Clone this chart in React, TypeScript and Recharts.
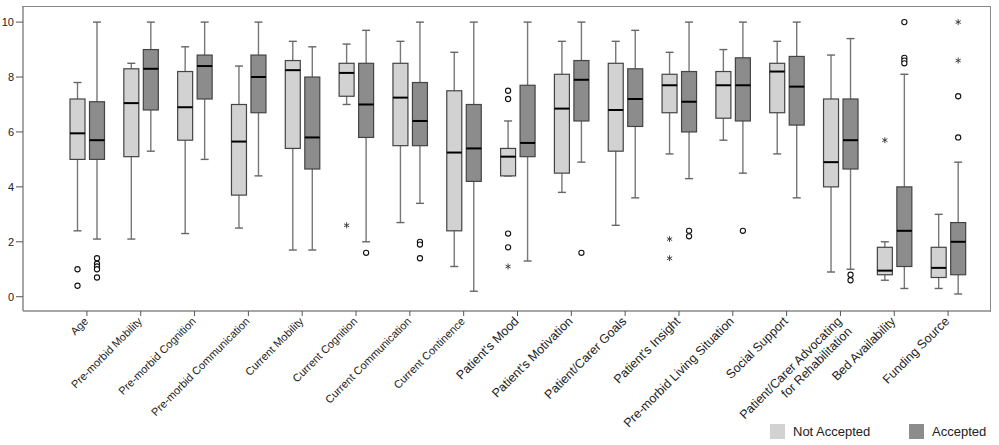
import React from 'react';
import { ComposedChart, Bar, XAxis, YAxis } from 'recharts';

const categories = [
  'Age',
  'Pre-morbid Mobility',
  'Pre-morbid Cognition',
  'Pre-morbid Communication',
  'Current Mobility',
  'Current Cognition',
  'Current Communication',
  'Current Continence',
  "Patient's Mood",
  "Patient's Motivation",
  'Patient/Carer Goals',
  "Patient's Insight",
  'Pre-morbid Living Situation',
  'Social Support',
  'Patient/Carer Advocating\nfor Rehabilitation',
  'Bed Availability',
  'Funding Source',
];

// Not Accepted
const naLow = [2.4, 2.1, 2.3, 2.5, 1.7, 7.0, 2.7, 1.1, 4.4, 3.8, 2.6, 5.2, 5.7, 5.2, 0.9, 0.6, 0.3];
const naQ1 = [5.0, 5.1, 5.7, 3.7, 5.4, 7.3, 5.5, 2.4, 4.4, 4.5, 5.3, 6.7, 6.5, 6.7, 4.0, 0.8, 0.7];
const naMed = [5.95, 7.05, 6.9, 5.65, 8.25, 8.15, 7.25, 5.25, 5.1, 6.85, 6.8, 7.7, 7.7, 8.2, 4.9, 0.95, 1.05];
const naQ3 = [7.2, 8.3, 8.2, 7.0, 8.6, 8.5, 8.5, 7.5, 5.4, 8.1, 8.5, 8.1, 8.2, 8.5, 7.2, 1.8, 1.8];
const naHigh = [7.8, 8.5, 9.1, 8.4, 9.3, 9.2, 9.3, 8.9, 6.4, 9.3, 9.3, 8.9, 9.0, 9.3, 8.8, 2.0, 3.0];
const naCircles = [[1.0, 0.4], [], [], [], [], [], [], [], [7.5, 7.2, 2.3, 1.8], [], [], [], [], [], [], [], []];
const naStars = [[], [], [], [], [], [2.6], [], [], [1.1], [], [], [2.1, 1.4], [], [], [], [5.7], []];

// Accepted
const accLow = [2.1, 5.3, 5.0, 4.4, 1.7, 2.0, 3.4, 0.2, 1.3, 4.9, 3.6, 4.3, 4.5, 3.6, 1.0, 0.3, 0.1];
const accQ1 = [5.0, 6.8, 7.2, 6.7, 4.65, 5.8, 5.5, 4.2, 5.1, 6.4, 6.2, 6.0, 6.4, 6.25, 4.65, 1.1, 0.8];
const accMed = [5.7, 8.3, 8.4, 8.0, 5.8, 7.0, 6.4, 5.4, 5.6, 7.9, 7.2, 7.1, 7.7, 7.65, 5.7, 2.4, 2.0];
const accQ3 = [7.1, 9.0, 8.8, 8.8, 8.0, 8.5, 7.8, 7.0, 7.7, 8.6, 8.3, 8.2, 8.7, 8.75, 7.2, 4.0, 2.7];
const accHigh = [10, 10, 10, 10, 9.1, 9.7, 10, 10, 10, 10, 9.7, 10, 10, 10, 9.4, 8.1, 4.9];
const accCircles = [
  [1.4, 1.2, 1.1, 1.0, 0.7], [], [], [], [], [1.6], [2.0, 1.9, 1.4], [], [], [1.6], [],
  [2.4, 2.2], [2.4], [], [0.8, 0.6], [10, 8.7, 8.6, 8.5], [7.3, 5.8],
];
const accStars = [[], [], [], [], [], [], [], [], [], [], [], [], [], [], [], [], [10, 8.6]];

const yTicks = [0, 2, 4, 6, 8, 10];

const data = categories.map((name, i) => ({
  name,
  na: { low: naLow[i], q1: naQ1[i], med: naMed[i], q3: naQ3[i], high: naHigh[i], circles: naCircles[i], stars: naStars[i] },
  acc: { low: accLow[i], q1: accQ1[i], med: accMed[i], q3: accQ3[i], high: accHigh[i], circles: accCircles[i], stars: accStars[i] },
}));

const FONT = '"Liberation Sans", Arial, sans-serif';

const boxShape = (key: 'na' | 'acc', fill: string) => (props: any) => {
  const { x, y, width, height, payload } = props;
  const s = payload[key];
  const py = (v: number) => y + (height * (s.high - v)) / (s.high - s.low);
  const cx = x + width / 2;
  const cap = 4;
  return (
    <g>
      <line x1={cx} x2={cx} y1={py(s.high)} y2={py(s.q3)} stroke="#777" strokeWidth={1.4} />
      <line x1={cx} x2={cx} y1={py(s.q1)} y2={py(s.low)} stroke="#777" strokeWidth={1.4} />
      <line x1={cx - cap} x2={cx + cap} y1={py(s.high)} y2={py(s.high)} stroke="#666" strokeWidth={1.4} />
      <line x1={cx - cap} x2={cx + cap} y1={py(s.low)} y2={py(s.low)} stroke="#666" strokeWidth={1.4} />
      <rect x={x} y={py(s.q3)} width={width} height={py(s.q1) - py(s.q3)} fill={fill} stroke="#444" strokeWidth={1.2} />
      <line x1={x} x2={x + width} y1={py(s.med)} y2={py(s.med)} stroke="#000" strokeWidth={2} />
      {s.circles.map((v: number, k: number) => (
        <circle key={'c' + k} cx={cx} cy={py(v)} r={2.6} fill="#fff" stroke="#111" strokeWidth={1.1} />
      ))}
      {s.stars.map((v: number, k: number) => {
        const yy = py(v);
        return (
          <g key={'s' + k} stroke="#333" strokeWidth={0.9}>
            <line x1={cx} x2={cx} y1={yy - 3} y2={yy + 3} />
            <line x1={cx - 2.6} x2={cx + 2.6} y1={yy - 1.5} y2={yy + 1.5} />
            <line x1={cx - 2.6} x2={cx + 2.6} y1={yy + 1.5} y2={yy - 1.5} />
          </g>
        );
      })}
    </g>
  );
};

const XTick = (props: any) => {
  const { x, y, payload, index } = props;
  const lines = String(payload.value).split('\n');
  const size = index >= 8 ? 12.5 : 11;
  return (
    <g transform={`translate(${x + 2},${y + 4})`}>
      <text transform="rotate(-45)" textAnchor="end" fontSize={size} fontFamily={FONT} fill="#222" dy="0.35em">
        {lines.map((l, k) => (
          <tspan key={k} x={0} dy={k === 0 ? 0 : '1.15em'}>
            {l}
          </tspan>
        ))}
      </text>
    </g>
  );
};

export default function App() {
  return (
    <div style={{ position: 'absolute', left: 0, top: 0, width: 999, height: 445, background: '#fff' }}>
      <ComposedChart
        width={999}
        height={445}
        data={data}
        margin={{ top: 7, right: 9, left: 0, bottom: 0 }}
        barSize={15}
        barGap={4.5}
      >
        <XAxis
          dataKey="name"
          height={134}
          interval={0}
          padding={{ left: 37, right: 15 }}
          tick={<XTick />}
          tickSize={5}
          tickMargin={2}
          axisLine={{ stroke: '#888', strokeWidth: 1.5 }}
          tickLine={{ stroke: '#555' }}
        />
        <YAxis
          type="number"
          domain={[-0.52, 10.55]}
          ticks={yTicks}
          allowDataOverflow
          width={23}
          tickSize={7}
          tickMargin={2}
          tick={{ fontSize: 11, fontFamily: FONT, fill: '#222' }}
          axisLine={{ stroke: '#888', strokeWidth: 1.5 }}
          tickLine={{ stroke: '#555' }}
        />
        <Bar
          dataKey={(d: any) => [d.na.low, d.na.high]}
          name="Not Accepted"
          fill="#d2d2d2"
          shape={boxShape('na', '#d2d2d2')}
          isAnimationActive={false}
        />
        <Bar
          dataKey={(d: any) => [d.acc.low, d.acc.high]}
          name="Accepted"
          fill="#8c8c8c"
          shape={boxShape('acc', '#8c8c8c')}
          isAnimationActive={false}
        />
      </ComposedChart>
      {/* plot frame (top and right edges) */}
      <div
        style={{
          position: 'absolute',
          left: 22,
          top: 6,
          width: 969,
          height: 306,
          boxSizing: 'border-box',
          borderTop: '1.5px solid #888',
          borderRight: '1.5px solid #888',
          pointerEvents: 'none',
        }}
      />
      <div style={{ position: 'absolute', left: 770, top: 424, display: 'flex', alignItems: 'center', fontFamily: FONT, fontSize: 13, color: '#222' }}>
        <span style={{ width: 15, height: 15, background: '#d2d2d2', display: 'inline-block', marginRight: 8 }} />
        <span>Not Accepted</span>
      </div>
      <div style={{ position: 'absolute', left: 909, top: 424, display: 'flex', alignItems: 'center', fontFamily: FONT, fontSize: 13, color: '#222' }}>
        <span style={{ width: 15, height: 15, background: '#8c8c8c', display: 'inline-block', marginRight: 8 }} />
        <span>Accepted</span>
      </div>
    </div>
  );
}
